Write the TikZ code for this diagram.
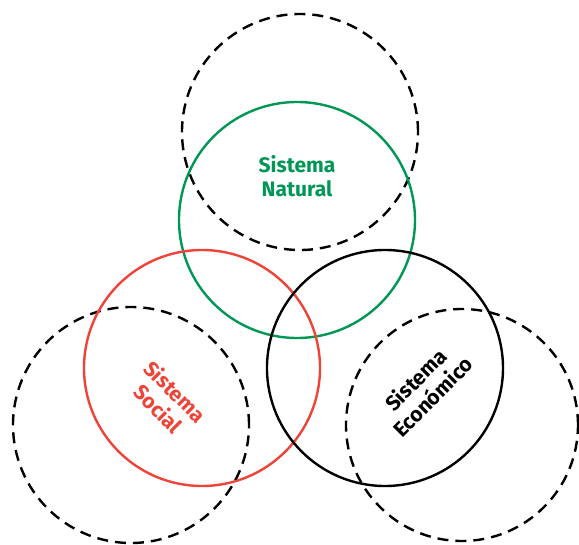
\documentclass[tikz,border=0pt]{standalone}
\usepackage{fontspec}
\setmainfont{Fira Sans}
\usetikzlibrary{calc}

\definecolor{natgreen}{RGB}{0,150,85}
\definecolor{socred}{RGB}{238,68,56}

\tikzset{
  sistema/.style={line width=2.4pt},
  entorno/.style={black, line width=2.4pt, dash pattern=on 11pt off 7pt},
  etiqueta/.style={font=\bfseries\fontsize{21}{24}\selectfont, align=center, inner sep=0pt},
}

\begin{document}
\begin{tikzpicture}[x=1pt,y=-1pt]
\useasboundingbox (0,0) rectangle (579,545);

% centros
\coordinate (N) at (297,220);
\coordinate (S) at (202,368);
\coordinate (E) at (385,368);
\coordinate (dN) at (300,132);
\coordinate (dS) at (131,425);
\coordinate (dE) at (462,425);

% circulos punteados
\draw[entorno] (dN) circle (118pt);
\draw[entorno] (dS) circle (118pt);
\draw[entorno] (dE) circle (116pt);

% sistemas
\draw[sistema, natgreen] (N) circle (118pt);
\draw[sistema, socred] (S) circle (118pt);
\draw[sistema, black] (E) circle (118pt);

\node[etiqueta, text=natgreen] (natural) at (297,176) {Sistema\\Natural};
\node[etiqueta, text=socred, rotate=-45] (social) at (167,400) {Sistema\\Social};
\node[etiqueta, text=black, rotate=45] (economico) at (424,388) {Sistema\\Económico};
\end{tikzpicture}
\end{document}
